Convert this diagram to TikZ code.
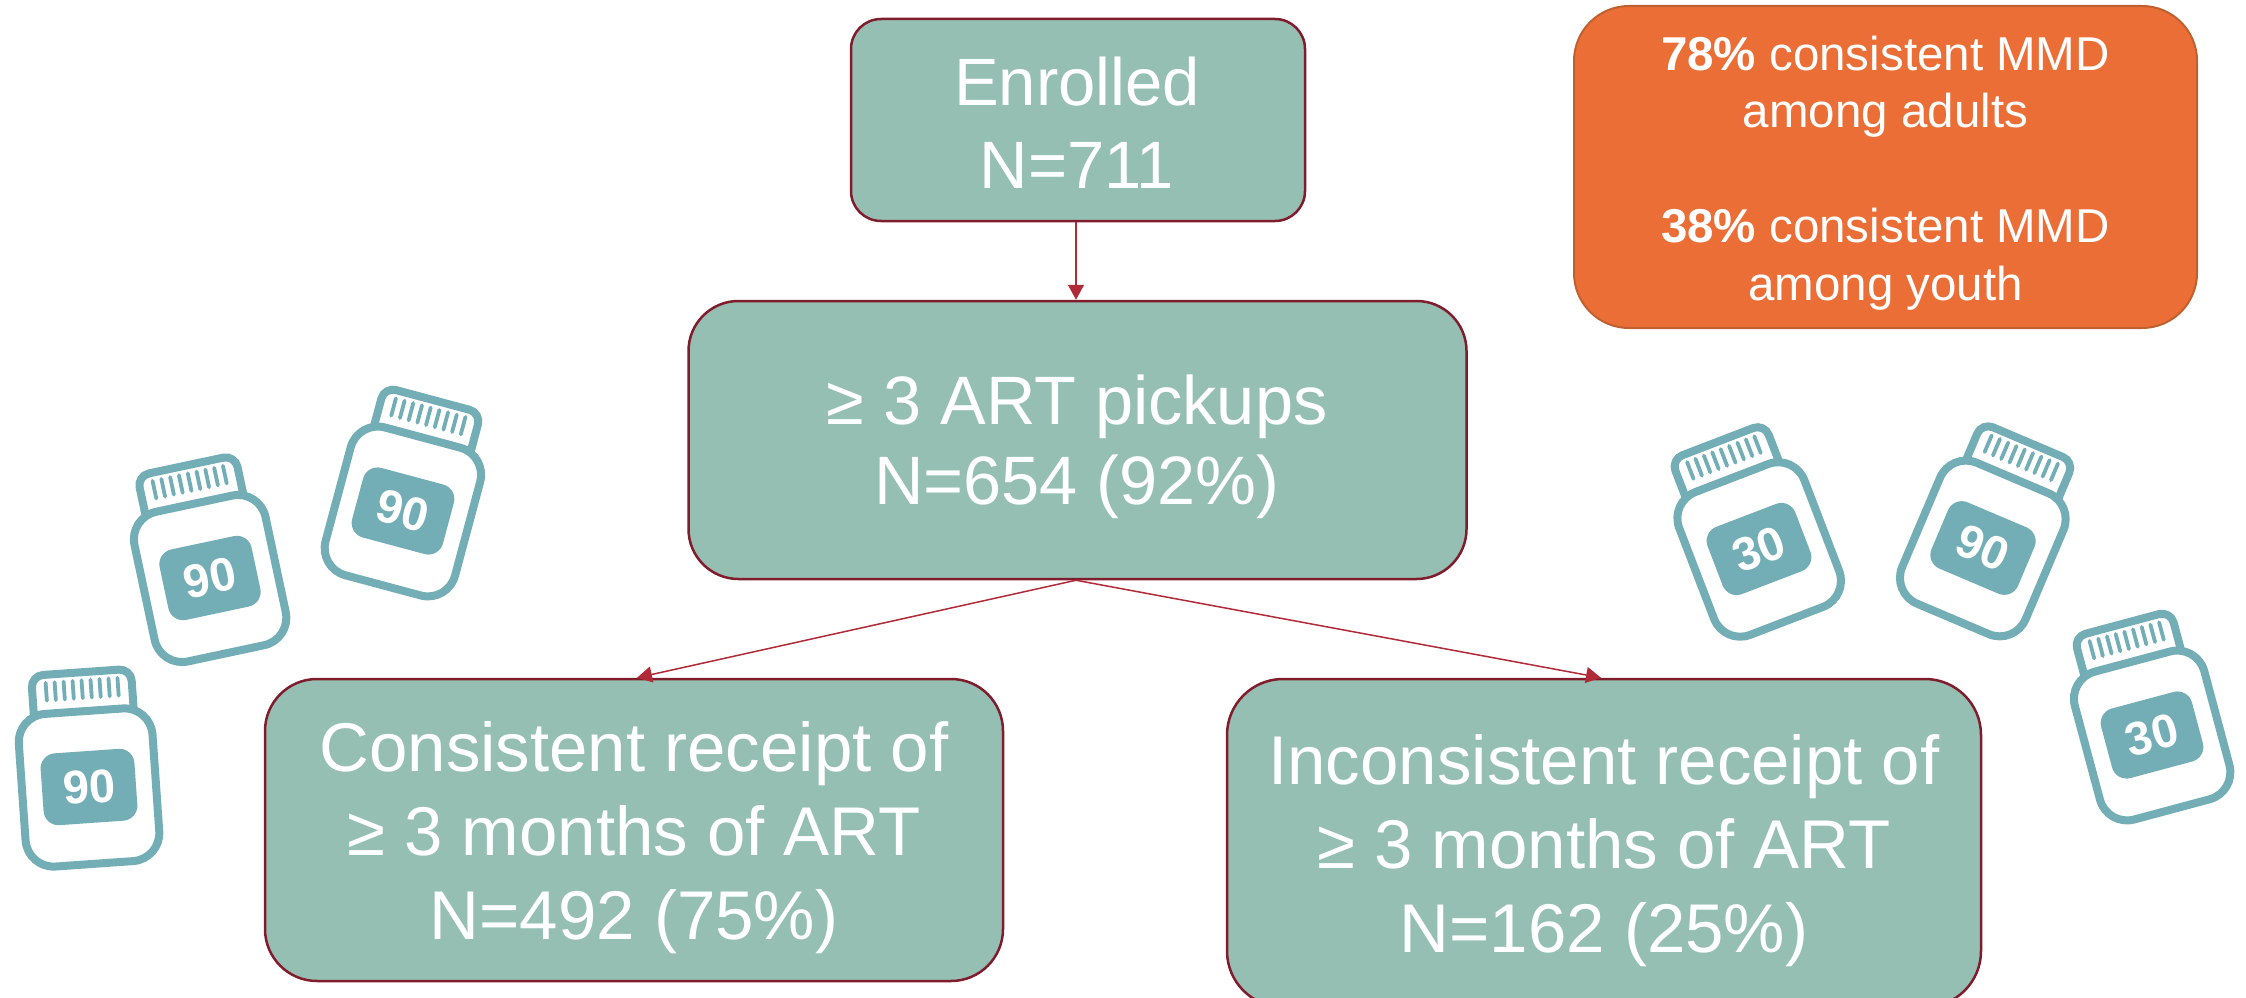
\documentclass[tikz,border=0pt]{standalone}
\usepackage{fontspec}
\setmainfont{Liberation Sans}
\usetikzlibrary{arrows.meta}
\definecolor{boxfill}{HTML}{95BFB3}
\definecolor{boxline}{HTML}{7F1D2D}
\definecolor{arrowcol}{HTML}{B02A37}
\definecolor{orangefill}{HTML}{EB6E37}
\definecolor{orangeline}{HTML}{C0602F}
\definecolor{teal}{HTML}{73AEB7}
\tikzset{
  flowbox/.style={draw=boxline,line width=2.5pt,fill=boxfill,inner sep=0pt},
  flowtext/.style={text=white,align=center,inner sep=0pt,font=\fontsize{69}{84}\selectfont},
  flowarrow/.style={draw=arrowcol,line width=1.5pt,-{Triangle[length=15pt,width=16pt]}},
  bottlebody/.style={draw=teal,line width=8pt,fill=white},
  bottlebars/.style={draw=teal,line width=3.8pt,line cap=round},
  bottlelabel/.style={fill=teal,draw=none},
  bottlenum/.style={text=white,inner sep=0pt,transform shape,font=\fontsize{47}{47}\selectfont\bfseries}
}
\newcommand{\pillbottle}[5]{%
  \begin{scope}[shift={(#2,#3)},rotate=#4]
    \draw[bottlebody,rounded corners=12pt] (-50,-60) rectangle (50,-115);
    \foreach \xx in {-36,-27,...,36} {\draw[bottlebars] (\xx,-107) -- (\xx,-89);}
    \draw[bottlebody,rounded corners=28pt] (-67,-76) rectangle (67,77);
    \fill[bottlelabel,rounded corners=15pt] (-47,-36) rectangle (47,36);
    \node[bottlenum] (#1) at (0,0) {#5};
  \end{scope}}
\begin{document}
\begin{tikzpicture}[x=1pt,y=-1pt]
\clip (0,0) rectangle (2246,998);
\node[flowbox,rounded corners=30pt,minimum width=454pt,minimum height=202pt] (enrolled) at (1078,120) {};
\node[flowtext,font=\fontsize{67}{83}\selectfont] (enrolledtext) at (1077,123) {Enrolled\\N=711};
\node[flowbox,rounded corners=50pt,minimum width=778pt,minimum height=278pt] (pickups) at (1077.5,440) {};
\node[flowtext,font=\fontsize{68.5}{80}\selectfont] (pickupstext) at (1077,447) {≥ 3 ART pickups\\N=654 (92\%)};
\node[flowbox,rounded corners=52pt,minimum width=738pt,minimum height=302pt] (consistent) at (634,830) {};
\node[flowtext] (consistenttext) at (634,838) {Consistent receipt of\\≥ 3 months of ART\\N=492 (75\%)};
\node[flowbox,rounded corners=56pt,minimum width=754pt,minimum height=328pt] (inconsistent) at (1604,843) {};
\node[flowtext] (inconsistenttext) at (1604,851) {Inconsistent receipt of\\≥ 3 months of ART\\N=162 (25\%)};
\node[draw=orangeline,line width=2pt,fill=orangefill,inner sep=0pt,rounded corners=55pt,minimum width=623pt,minimum height=322pt] (summary) at (1885.5,167) {};
\node[flowtext,font=\fontsize{47.5}{57.4}\selectfont] (summarytext) at (1885.5,173) {\textbf{78\%} consistent MMD\\among adults\\[57.4pt]\textbf{38\%} consistent MMD\\among youth};
\draw[flowarrow] ([xshift=-2pt]enrolled.south) -- ([xshift=-1.5pt]pickups.north);
\draw[flowarrow] ([xshift=-1.5pt]pickups.south) -- ([xshift=3pt]consistent.north);
\draw[flowarrow] ([xshift=-1.5pt]pickups.south) -- ([xshift=-3pt]inconsistent.north);
\pillbottle{b1}{89}{787}{4}{90}
\pillbottle{b2}{210}{578}{12}{90}
\pillbottle{b3}{403}{511}{-15}{90}
\pillbottle{b4}{1759}{549}{21}{30}
\pillbottle{b5}{1983}{548}{-23}{90}
\pillbottle{b6}{2152}{735}{15}{30}
\end{tikzpicture}
\end{document}
